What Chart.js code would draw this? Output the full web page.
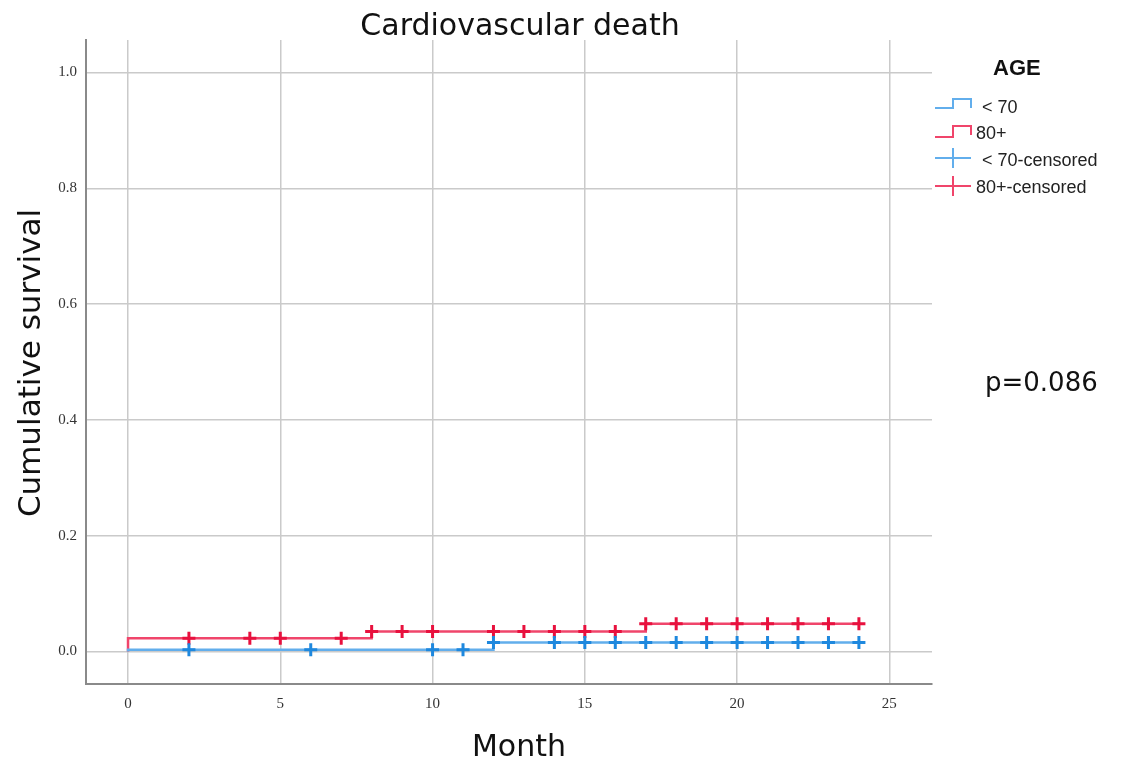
<!DOCTYPE html>
<html>
<head>
<meta charset="utf-8">
<script src="https://cdn.jsdelivr.net/npm/chart.js@4.4.0/dist/chart.umd.min.js"></script>
<style>html,body{margin:0;padding:0;background:#fff}</style>
</head>
<body>
<canvas id="km" width="1135" height="767"></canvas>
<script>
// step curves: month of each step and the level reached there
var under70Times = [0, 0, 12, 24];
var under70Levels = [0, 0.003, 0.0155, 0.0155];
var over80Times = [0, 0, 8, 17, 24];
var over80Levels = [0, 0.023, 0.0345, 0.048, 0.048];
// censored cases (month)
var under70Censored = [2, 6, 10, 11, 12, 14, 15, 16, 17, 18, 19, 20, 21, 22, 23, 24];
var over80Censored = [2, 4, 5, 7, 8, 9, 10, 12, 13, 14, 15, 16, 17, 18, 19, 20, 21, 22, 23, 24];
var legendLabels = ['< 70', '80+', '< 70-censored', '80+-censored'];
var titleText = 'Cardiovascular death';
var xTitle = 'Month';
var yTitle = 'Cumulative survival';
var pText = 'p=0.086';

var blueLine = '#62aeec', blueMark = '#1e88de';
var redLine = '#f0456b', redMark = '#e8113e';

function stepPoints(times, levels) {
  var pts = [];
  for (var i = 0; i < times.length; i++) pts.push({x: times[i], y: levels[i]});
  return pts;
}
function levelAt(times, levels, t) {
  var lvl = levels[0];
  for (var i = 0; i < times.length; i++) { if (times[i] <= t) lvl = levels[i]; }
  return lvl;
}
function censorPoints(list, times, levels) {
  return list.map(function (t) { return {x: t, y: levelAt(times, levels, t)}; });
}

var textPlugin = {
  id: 'kmText',
  afterDraw: function (chart) {
    var ctx = chart.ctx;
    ctx.save();
    ctx.fillStyle = '#111';
    ctx.textBaseline = 'alphabetic';
    ctx.textAlign = 'center';
    ctx.font = '30px "DejaVu Sans"';
    ctx.fillText(titleText, 520, 35);
    ctx.fillText(xTitle, 519, 756);
    ctx.save();
    ctx.font = '31px "DejaVu Sans"';
    ctx.translate(40, 363);
    ctx.rotate(-Math.PI / 2);
    ctx.fillText(yTitle, 0, 0);
    ctx.restore();

    ctx.textAlign = 'left';
    ctx.font = '26px "DejaVu Sans"';
    ctx.fillText(pText, 985, 391);

    // legend
    ctx.font = 'bold 22px "Liberation Sans"';
    ctx.fillText('AGE', 993, 75);
    ctx.lineWidth = 2;
    ctx.strokeStyle = blueLine;
    ctx.beginPath();
    ctx.moveTo(935, 108); ctx.lineTo(953, 108); ctx.lineTo(953, 99); ctx.lineTo(971, 99); ctx.lineTo(971, 108);
    ctx.stroke();
    ctx.strokeStyle = redLine;
    ctx.beginPath();
    ctx.moveTo(935, 137); ctx.lineTo(953, 137); ctx.lineTo(953, 126); ctx.lineTo(971, 126); ctx.lineTo(971, 135);
    ctx.stroke();
    ctx.strokeStyle = blueLine;
    ctx.beginPath();
    ctx.moveTo(935, 158); ctx.lineTo(971, 158); ctx.moveTo(953, 148); ctx.lineTo(953, 168);
    ctx.stroke();
    ctx.strokeStyle = redLine;
    ctx.beginPath();
    ctx.moveTo(935, 186); ctx.lineTo(971, 186); ctx.moveTo(953, 176); ctx.lineTo(953, 196);
    ctx.stroke();

    ctx.font = '18px "Liberation Sans"';
    ctx.fillStyle = '#222';
    ctx.textBaseline = 'middle';
    ctx.fillText(legendLabels[0], 982, 108);
    ctx.fillText(legendLabels[1], 976, 134);
    ctx.fillText(legendLabels[2], 982, 161);
    ctx.fillText(legendLabels[3], 976, 188);
    ctx.restore();
  }
};

new Chart(document.getElementById('km'), {
  type: 'scatter',
  data: {
    datasets: [
      {
        label: legendLabels[0],
        data: stepPoints(under70Times, under70Levels),
        showLine: true, stepped: true, order: 2,
        borderColor: blueLine, borderWidth: 2.5, pointRadius: 0, fill: false
      },
      {
        label: legendLabels[1],
        data: stepPoints(over80Times, over80Levels),
        showLine: true, stepped: true, order: 2,
        borderColor: redLine, borderWidth: 2.5, pointRadius: 0, fill: false
      },
      {
        label: legendLabels[2],
        data: censorPoints(under70Censored, under70Times, under70Levels),
        showLine: false, pointStyle: 'cross', pointRadius: 6.5, order: 1,
        borderColor: blueMark, backgroundColor: blueMark, pointBorderWidth: 3
      },
      {
        label: legendLabels[3],
        data: censorPoints(over80Censored, over80Times, over80Levels),
        showLine: false, pointStyle: 'cross', pointRadius: 6.5, order: 1,
        borderColor: redMark, backgroundColor: redMark, pointBorderWidth: 3
      }
    ]
  },
  options: {
    responsive: false,
    animation: false,
    layout: {padding: {left: 0, top: 40, right: 203, bottom: 0}},
    plugins: {legend: {display: false}, title: {display: false}, tooltip: {enabled: false}},
    scales: {
      x: {
        type: 'linear',
        min: -1.38, max: 26.4,
        afterFit: function (s) { s.height = 83; },
        grid: {color: '#cacaca', lineWidth: 1.5, drawTicks: false},
        border: {color: '#8a8a8a', width: 2},
        ticks: {
          stepSize: 5, includeBounds: false, padding: 11,
          color: '#333', font: {family: 'Liberation Serif', size: 15},
          callback: function (v) { return v; }
        }
      },
      y: {
        min: -0.0561, max: 1.0561,
        afterFit: function (s) { s.width = 86; },
        grid: {color: '#cacaca', lineWidth: 1.5, drawTicks: false},
        border: {color: '#8a8a8a', width: 2},
        ticks: {
          stepSize: 0.2, includeBounds: false, padding: 9,
          color: '#333', font: {family: 'Liberation Serif', size: 15},
          callback: function (v) { return v.toFixed(1); }
        }
      }
    }
  },
  plugins: [textPlugin]
});
</script>
</body>
</html>
